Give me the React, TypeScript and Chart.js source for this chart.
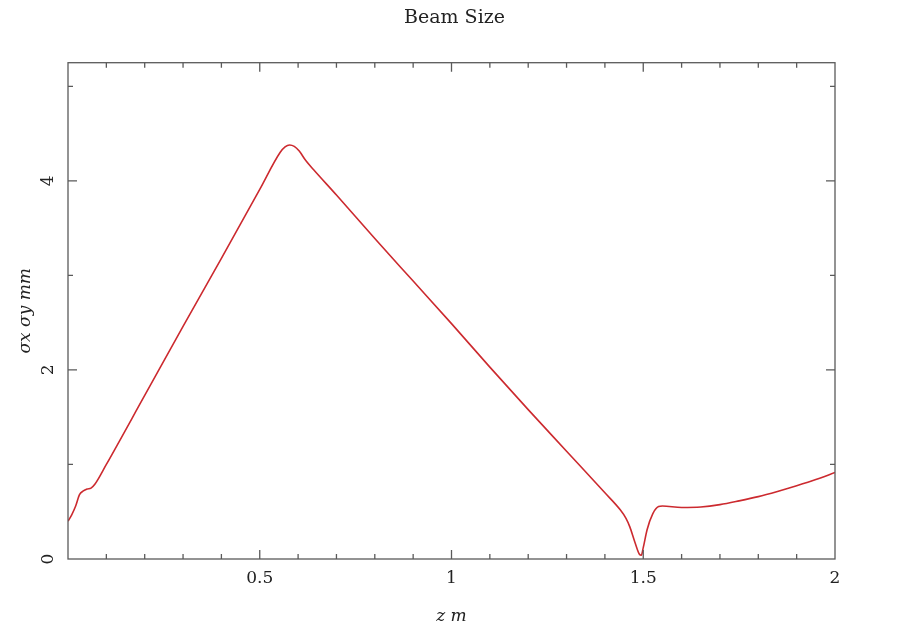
import React, { useEffect, useRef } from "react";
import { Chart, registerables } from "chart.js";

Chart.register(...registerables);

// Beam size along z
const zValues = [
  0, 0.01, 0.02, 0.03, 0.04, 0.05, 0.06, 0.07, 0.1, 0.2, 0.3, 0.4, 0.5, 0.553, 0.566, 0.578, 0.59, 0.603, 0.62,
  0.64, 0.7, 0.8, 0.9, 1.0, 1.1, 1.2, 1.3, 1.4, 1.44, 1.455, 1.465, 1.478, 1.49, 1.495, 1.5, 1.51, 1.525, 1.54,
  1.55, 1.6, 1.65, 1.7, 1.75, 1.8, 1.85, 1.9, 1.95, 2.0,
];
const sigmaValues = [
  0.4, 0.47, 0.56, 0.68, 0.72, 0.74, 0.75, 0.79, 1.0, 1.73, 2.46, 3.18, 3.91, 4.3, 4.36, 4.38, 4.365, 4.315, 4.215,
  4.12, 3.85, 3.39, 2.94, 2.49, 2.03, 1.58, 1.14, 0.7, 0.52, 0.43, 0.34, 0.18, 0.05, 0.04, 0.12, 0.31, 0.48, 0.555,
  0.56, 0.545, 0.55, 0.575, 0.615, 0.66, 0.715, 0.775, 0.84, 0.915,
];

const xTickLabels = [0.5, 1, 1.5, 2];
const yTickLabels = [0, 2, 4];
const xMinorTicks = [0.1, 0.2, 0.3, 0.4, 0.5, 0.6, 0.7, 0.8, 0.9, 1, 1.1, 1.2, 1.3, 1.4, 1.5, 1.6, 1.7, 1.8, 1.9];
const xMajorTicks = [0.5, 1, 1.5];
const yMinorTicks = [1, 2, 3, 4, 5];
const yMajorTicks = [2, 4];

const titleText = "Beam Size";
const xTitle = "z m";
const yTitle = "σx σy mm";

const framePlugin = {
  id: "frame",
  afterDatasetsDraw(chart: any) {
    const { ctx, chartArea, scales } = chart;
    const { left, right, top, bottom } = chartArea;
    const x = scales.x;
    const y = scales.y;
    ctx.save();
    ctx.strokeStyle = "#5a5a5a";
    ctx.lineWidth = 1.3;
    ctx.strokeRect(left, top, right - left, bottom - top);
    ctx.beginPath();
    xMinorTicks.forEach((v) => {
      const px = x.getPixelForValue(v);
      const len = xMajorTicks.includes(v) ? 9 : 5;
      ctx.moveTo(px, bottom);
      ctx.lineTo(px, bottom - len);
      ctx.moveTo(px, top);
      ctx.lineTo(px, top + len);
    });
    yMinorTicks.forEach((v) => {
      const py = y.getPixelForValue(v);
      const len = yMajorTicks.includes(v) ? 9 : 5;
      ctx.moveTo(left, py);
      ctx.lineTo(left + len, py);
      ctx.moveTo(right, py);
      ctx.lineTo(right - len, py);
    });
    ctx.stroke();
    ctx.restore();
  },
};

export default function App() {
  const canvasRef = useRef<HTMLCanvasElement | null>(null);

  useEffect(() => {
    if (!canvasRef.current) return;
    const points = zValues.map((z, i) => ({ x: z, y: sigmaValues[i] }));
    const tickFont = { family: "DejaVu Serif", size: 17 };
    const chart = new Chart(canvasRef.current, {
      type: "line",
      data: {
        datasets: [
          {
            data: points,
            borderColor: "#cc2a2f",
            borderWidth: 1.6,
            pointRadius: 0,
            fill: false,
            cubicInterpolationMode: "monotone",
            yAxisID: "y",
          },
        ],
      },
      options: {
        responsive: false,
        animation: false,
        devicePixelRatio: 1,
        layout: { padding: { top: 0, right: 0, bottom: 0, left: 0 } },
        plugins: {
          legend: { display: false },
          tooltip: { enabled: false },
          title: {
            display: true,
            text: titleText,
            color: "#222",
            font: { family: "DejaVu Serif", size: 19, weight: "normal" },
            padding: { top: 7, bottom: 32.9 },
          },
        },
        scales: {
          x: {
            type: "linear",
            min: 0,
            max: 2,
            grid: { display: false, drawTicks: false },
            border: { display: false },
            afterBuildTicks: (s: any) => {
              s.ticks = xTickLabels.map((v) => ({ value: v }));
            },
            afterFit: (s: any) => {
              s.height = 68;
            },
            ticks: {
              color: "#222",
              font: tickFont,
              padding: 9,
              maxRotation: 0,
              minRotation: 0,
              callback: (v: any) => String(v),
            },
            title: {
              display: true,
              text: xTitle,
              color: "#222",
              font: { family: "DejaVu Serif", size: 17, style: "italic" },
              padding: { top: 0, bottom: 0 },
            },
          },
          y: {
            type: "linear",
            position: "left",
            min: 0,
            max: 5.25,
            grid: { display: false, drawTicks: false },
            border: { display: false },
            afterBuildTicks: (s: any) => {
              s.ticks = yTickLabels.map((v) => ({ value: v }));
            },
            afterFit: (s: any) => {
              s.width = 68;
            },
            ticks: {
              color: "#222",
              font: tickFont,
              padding: 14.5,
              minRotation: 90,
              maxRotation: 90,
              crossAlign: "center",
              callback: (v: any) => String(v),
            },
            title: {
              display: true,
              text: yTitle,
              color: "#222",
              font: { family: "DejaVu Serif", size: 17, style: "italic" },
              padding: { top: 15, bottom: 0 },
            },
          },
          yRight: {
            type: "linear",
            position: "right",
            display: true,
            min: 0,
            max: 5.25,
            grid: { display: false, drawTicks: false },
            border: { display: false },
            ticks: { display: false },
            afterFit: (s: any) => {
              s.width = 74;
            },
          },
        },
      },
      plugins: [framePlugin],
    } as any);
    return () => chart.destroy();
  }, []);

  return (
    <div style={{ position: "fixed", left: 0, top: 0, width: 909, height: 627, background: "#fff" }}>
      <canvas ref={canvasRef} width={909} height={627} style={{ width: 909, height: 627 }} />
    </div>
  );
}
